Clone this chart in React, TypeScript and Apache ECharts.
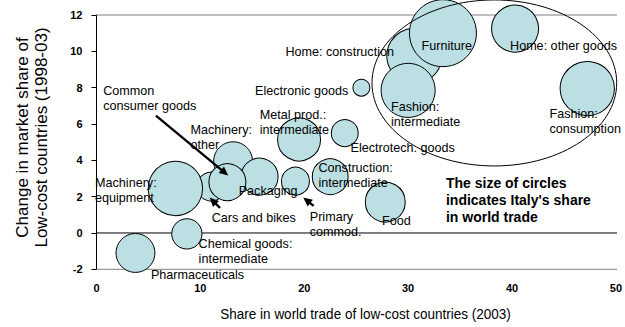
import React, { useEffect, useRef } from "react";
import * as echarts from "echarts";

// ---- data ----
const categories = [
  "Home: construction",
  "Furniture",
  "Fashion: intermediate",
  "Home: other goods",
  "Fashion: consumption",
  "Electronic goods",
  "Metal prod.: intermediate",
  "Electrotech. goods",
  "Construction: intermediate",
  "Primary commod.",
  "Food",
  "Machinery: other",
  "Packaging",
  "Cars and bikes",
  "Machinery: equipment",
  "Common consumer goods",
  "Chemical goods: intermediate",
  "Pharmaceuticals",
];
// Share in world trade of low-cost countries (2003)
const lowCostShare2003 = [30.6, 33.35, 30.0, 40.3, 47.25, 25.5, 19.5, 23.9, 22.5, 19.15, 27.8, 13.15, 15.7, 11.05, 7.6, 12.6, 8.7, 3.75];
// Change in market share of low-cost countries (1998-03)
const marketShareChange = [9.75, 11.0, 7.85, 11.25, 7.95, 8.0, 5.15, 5.5, 3.1, 2.85, 1.7, 3.95, 3.1, 2.55, 2.45, 2.8, -0.05, -1.1];
// Italy's share in world trade (bubble size)
const italyWorldShare = [10.9, 16.0, 10.5, 8.0, 10.6, 1.1, 6.7, 2.7, 4.7, 2.9, 5.8, 5.5, 5.0, 3.1, 10.6, 5.0, 3.4, 5.5];

const xTickInterval = 10;
const yTickInterval = 2;

// annotation labels (anchored in data units: left edge, centre of first line)
const labelTexts = [
  "Common\nconsumer goods",
  "Machinery:\nother",
  "Metal prod.:\nintermediate",
  "Electronic goods",
  "Home: construction",
  "Electrotech. goods",
  "Construction:\nintermediate",
  "Food",
  "Primary\ncommod.",
  "Packaging",
  "Cars and bikes",
  "Machinery:\nequipment",
  "Chemical goods:\nintermediate",
  "Pharmaceuticals",
  "Fashion:\nintermediate",
  "Furniture",
  "Home: other goods",
  "Fashion:\nconsumption",
];
const labelX = [0.65, 9.04, 15.72, 15.27, 18.19, 24.45, 21.37, 27.49, 20.53, 13.69, 11.09, -0.14, 9.83, 5.24, 28.35, 31.29, 39.81, 43.61];
const labelY = [7.84, 5.67, 6.5, 7.84, 9.94, 4.66, 3.56, 0.66, 0.9, 2.33, 0.84, 2.74, -0.62, -2.31, 6.92, 10.31, 10.31, 6.55];

const noteText = "The size of circles\nindicates Italy's share\nin world trade";
const noteAnchor = [33.64, 2.74];

const arrowTail = [
  [5.72, 6.46],
  [11.89, 1.38],
  [20.91, 1.49],
];
const arrowTip = [
  [12.68, 3.16],
  [10.89, 1.95],
  [19.9, 1.95],
];

const highlightCenter = [38.3, 8.26];
const highlightRadius = [11.78, 4.57];

const FONT = "'Liberation Sans', Arial, Helvetica, sans-serif";

export default function App() {
  const ref = useRef<HTMLDivElement>(null);

  useEffect(() => {
    if (!ref.current) return;
    const chart = echarts.init(ref.current, null, { renderer: "svg" });

    const bubbleData = categories.map((name, i) => ({
      name,
      value: [lowCostShare2003[i], marketShareChange[i], italyWorldShare[i]],
    }));

    const borderLine = (y: number, color: string) => ({
      type: "line",
      data: [
        [0, y],
        [52, y],
      ],
      symbol: "none",
      clip: false,
      silent: true,
      z: 1,
      lineStyle: { color, width: 1 },
    });

    chart.setOption({
      animation: false,
      grid: { left: 96.5, right: 2, top: 15, bottom: 57.7, containLabel: false },
      xAxis: {
        type: "value",
        min: 0,
        max: 50,
        interval: xTickInterval,
        axisLine: { show: false },
        axisTick: { show: false },
        splitLine: { show: false },
        axisLabel: {
          margin: 13,
          color: "#000",
          fontSize: 11,
          fontWeight: "bold",
          fontFamily: FONT,
        },
      },
      yAxis: {
        type: "value",
        min: -2,
        max: 12,
        interval: yTickInterval,
        axisLine: { show: true, onZero: false, lineStyle: { color: "#000", width: 1 } },
        axisTick: { show: true, length: 5, lineStyle: { color: "#000" } },
        splitLine: { show: false },
        axisLabel: {
          margin: 14,
          color: "#000",
          fontSize: 11,
          fontWeight: "bold",
          fontFamily: FONT,
        },
      },
      series: [
        borderLine(12, "#808080"),
        borderLine(-2, "#808080"),
        borderLine(0, "#000"),
        {
          type: "scatter",
          data: bubbleData,
          clip: false,
          z: 2,
          symbolSize: (val: number[]) => 17 * Math.sqrt(val[2]) - 1,
          itemStyle: { color: "#BBDFE3", borderColor: "#000", borderWidth: 1, opacity: 1 },
          emphasis: { disabled: true },
        },
        {
          type: "custom",
          z: 3,
          silent: true,
          data: [[highlightCenter[0], highlightCenter[1], highlightRadius[0], highlightRadius[1]]],
          renderItem: (_p: any, api: any) => {
            const c = api.coord([api.value(0), api.value(1)]);
            const s = api.size([api.value(2), api.value(3)]);
            return {
              type: "ellipse",
              shape: { cx: c[0], cy: c[1], rx: Math.abs(s[0]), ry: Math.abs(s[1]) },
              style: { fill: "none", stroke: "#000", lineWidth: 1 },
            };
          },
        },
        {
          type: "custom",
          z: 4,
          silent: true,
          data: arrowTail.map((t, i) => [t[0], t[1], arrowTip[i][0], arrowTip[i][1]]),
          renderItem: (_p: any, api: any) => {
            const a = api.coord([api.value(0), api.value(1)]);
            const b = api.coord([api.value(2), api.value(3)]);
            const dx = b[0] - a[0];
            const dy = b[1] - a[1];
            const len = Math.hypot(dx, dy) || 1;
            const ux = dx / len;
            const uy = dy / len;
            const hl = 9;
            const hw = 4.2;
            const bx = b[0] - ux * hl;
            const by = b[1] - uy * hl;
            return {
              type: "group",
              children: [
                {
                  type: "line",
                  shape: { x1: a[0], y1: a[1], x2: bx + ux, y2: by + uy },
                  style: { stroke: "#000", lineWidth: 2.3 },
                },
                {
                  type: "polygon",
                  shape: {
                    points: [
                      [b[0], b[1]],
                      [bx - uy * hw, by + ux * hw],
                      [bx + uy * hw, by - ux * hw],
                    ],
                  },
                  style: { fill: "#000" },
                },
              ],
            };
          },
        },
        {
          type: "custom",
          z: 5,
          silent: true,
          data: labelX.map((x, i) => [x, labelY[i]]),
          renderItem: (params: any, api: any) => {
            const p = api.coord([api.value(0), api.value(1)]);
            return {
              type: "text",
              x: p[0],
              y: p[1] - 7.5,
              style: {
                text: labelTexts[params.dataIndex],
                fill: "#000",
                fontSize: 12.6,
                fontFamily: FONT,
                align: "left",
                verticalAlign: "top",
                lineHeight: 15,
              },
            };
          },
        },
        {
          type: "custom",
          z: 5,
          silent: true,
          data: [noteAnchor],
          renderItem: (_p: any, api: any) => {
            const p = api.coord([api.value(0), api.value(1)]);
            return {
              type: "text",
              x: p[0],
              y: p[1] - 8.3,
              style: {
                text: noteText,
                fill: "#000",
                fontSize: 14,
                fontWeight: "bold",
                fontFamily: FONT,
                align: "left",
                verticalAlign: "top",
                lineHeight: 16.7,
              },
            };
          },
        },
      ],
      graphic: [
        {
          type: "text",
          x: 32.2,
          y: 137.5,
          rotation: Math.PI / 2,
          style: {
            text: "Change in market share of\nLow-cost countries (1998-03)",
            fill: "#000",
            fontSize: 17,
            fontFamily: FONT,
            align: "center",
            verticalAlign: "middle",
            lineHeight: 19,
          },
        },
        {
          type: "text",
          x: 365.5,
          y: 314,
          scaleY: 1.12,
          style: {
            text: "Share in world trade of low-cost countries (2003)",
            fill: "#000",
            fontSize: 13.5,
            fontFamily: FONT,
            align: "center",
            verticalAlign: "middle",
          },
        },
      ],
    });

    return () => chart.dispose();
  }, []);

  return (
    <div
      ref={ref}
      style={{ position: "fixed", left: 0, top: 0, width: 625, height: 327, background: "#fff" }}
    />
  );
}
